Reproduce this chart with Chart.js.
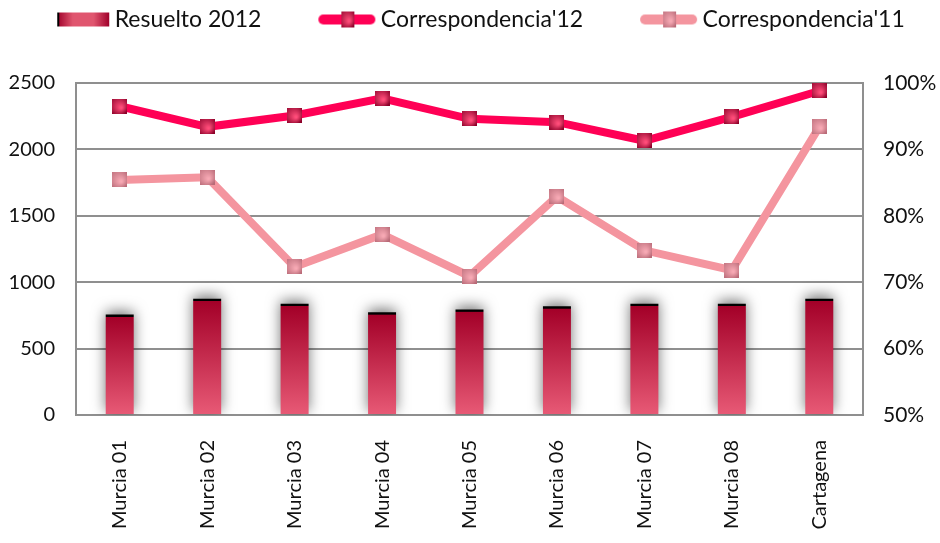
<!DOCTYPE html>
<html>
<head>
<meta charset="utf-8">
<script src="https://cdn.jsdelivr.net/npm/chart.js@4"></script>
<style>
  html, body { margin: 0; padding: 0; background: #fff; }
  #wrap { width: 940px; height: 543px; }
</style>
</head>
<body>
<div id="wrap"><canvas id="myChart" width="940" height="543"></canvas></div>
<script>
// datos
const labels = ['Murcia 01', 'Murcia 02', 'Murcia 03', 'Murcia 04', 'Murcia 05', 'Murcia 06', 'Murcia 07', 'Murcia 08', 'Cartagena'];
const resuelto2012 = [756, 876, 838, 773, 795, 818, 838, 838, 876];
const corresp12 = [0.965, 0.934, 0.951, 0.977, 0.946, 0.941, 0.913, 0.949, 0.988];
const corresp11 = [0.854, 0.858, 0.723, 0.772, 0.709, 0.829, 0.748, 0.718, 0.934];
const leftTicks = [0, 500, 1000, 1500, 2000, 2500];
const rightTicks = [0.5, 0.6, 0.7, 0.8, 0.9, 1.0];

const FONT = 'Lato';
Chart.defaults.font.family = FONT;
Chart.defaults.color = '#222';

const GRID = '#8f8f8f';
const LINE12 = '#ff0055';
const LINE11 = '#f4959f';

// marcadores cuadrados con degradado
function makeMarker(dark, light) {
  const c = document.createElement('canvas');
  c.width = 15; c.height = 15;
  const x = c.getContext('2d');
  const g = x.createRadialGradient(9, 9, 1, 6, 6, 11);
  g.addColorStop(0, light);
  g.addColorStop(1, dark);
  x.fillStyle = g;
  x.fillRect(0, 0, 15, 15);
  return c;
}
const marker12 = makeMarker('#8a0028', '#ff4d7a');
const marker11 = makeMarker('#b86a77', '#f7a9b4');

// iconos de la leyenda
function legendLine(color, mk) {
  const c = document.createElement('canvas');
  c.width = 120; c.height = 22;
  const x = c.getContext('2d');
  x.strokeStyle = color;
  x.lineWidth = 10;
  x.lineCap = 'round';
  x.beginPath();
  x.moveTo(64, 11);
  x.lineTo(111, 11);
  x.stroke();
  x.drawImage(mk, 82, 3, 13, 16);
  return c;
}
function legendBar() {
  const c = document.createElement('canvas');
  c.width = 120; c.height = 22;
  const x = c.getContext('2d');
  const g = x.createLinearGradient(64, 0, 116, 0);
  g.addColorStop(0, '#a0002a');
  g.addColorStop(0.3, '#e0566f');
  g.addColorStop(0.7, '#e0566f');
  g.addColorStop(1, '#a0002a');
  x.fillStyle = g;
  x.fillRect(64, 4, 52, 14);
  x.fillStyle = '#000';
  x.fillRect(64, 4, 2, 14);
  return c;
}
const legendIcons = [legendBar(), legendLine(LINE12, marker12), legendLine(LINE11, marker11)];

// degradado por barra, con el filo negro arriba
function barGradient(context) {
  const chart = context.chart;
  const area = chart.chartArea;
  if (!area || context.type !== 'data') return '#c8304f';
  const top = chart.scales.y.getPixelForValue(context.raw);
  const h = Math.max(area.bottom - top, 4);
  const g = chart.ctx.createLinearGradient(0, top, 0, area.bottom);
  g.addColorStop(0, '#000');
  g.addColorStop(2 / h, '#000');
  g.addColorStop(2.5 / h, '#a30028');
  g.addColorStop(1, '#e85a76');
  return g;
}

const data = {
  labels: labels,
  datasets: [{
    type: 'bar',
    label: 'Resuelto 2012',
    data: resuelto2012,
    yAxisID: 'y',
    backgroundColor: barGradient,
    borderWidth: 0,
    barPercentage: 0.32,
    categoryPercentage: 1,
    order: 3
  }, {
    type: 'line',
    label: "Correspondencia'12",
    data: corresp12,
    yAxisID: 'y1',
    borderColor: LINE12,
    borderWidth: 8,
    pointStyle: marker12,
    pointRadius: 8,
    tension: 0,
    order: 1
  }, {
    type: 'line',
    label: "Correspondencia'11",
    data: corresp11,
    yAxisID: 'y1',
    borderColor: LINE11,
    borderWidth: 8,
    pointStyle: marker11,
    pointRadius: 8,
    tension: 0,
    order: 2
  }]
};

// sombra de las barras
const barShadow = {
  id: 'barShadow',
  beforeDatasetDraw(chart, args) {
    if (args.index !== 0) return;
    const ctx = chart.ctx;
    ctx.save();
    ctx.shadowColor = 'rgba(0,0,0,0.55)';
    ctx.shadowBlur = 14;
    ctx.shadowOffsetY = -3;
  },
  afterDatasetDraw(chart, args) {
    if (args.index !== 0) return;
    chart.ctx.restore();
  }
};

// espacio bajo la leyenda y desplazamiento
const legendGap = {
  id: 'legendGap',
  beforeInit(chart) {
    const fit = chart.legend.fit;
    chart.legend.fit = function () {
      fit.bind(chart.legend)();
      this.height += 42;
    };
  },
  afterLayout(chart) {
    chart.legend.left -= 16;
    chart.legend.right -= 16;
  }
};

const config = {
  data: data,
  options: {
    responsive: false,
    animation: false,
    layout: { padding: 0 },
    plugins: {
      tooltip: { enabled: false },
      legend: {
        position: 'top',
        labels: {
          usePointStyle: true,
          pointStyleWidth: 100,
          boxHeight: 22,
          padding: 8,
          color: '#111',
          font: { size: 23, family: FONT },
          sort: (a, b) => a.datasetIndex - b.datasetIndex,
          generateLabels(chart) {
            const items = Chart.defaults.plugins.legend.labels.generateLabels(chart);
            items.forEach((it) => { it.pointStyle = legendIcons[it.datasetIndex]; });
            return items;
          }
        }
      }
    },
    scales: {
      x: {
        offset: true,
        grid: { display: false },
        border: { display: true, color: GRID, width: 2 },
        afterFit: (axis) => { axis.height = 128; },
        ticks: {
          minRotation: 90,
          maxRotation: 90,
          padding: 17,
          color: '#111',
          font: { size: 20 }
        }
      },
      y: {
        position: 'left',
        min: 0,
        max: 2500,
        afterBuildTicks: (axis) => { axis.ticks = leftTicks.map(v => ({ value: v })); },
        afterFit: (axis) => { axis.width = 76; },
        grid: { color: GRID, lineWidth: 2, drawTicks: false },
        border: { display: true, color: GRID, width: 2 },
        ticks: {
          padding: 21,
          color: '#111',
          font: { size: 20 },
          callback: (v) => String(v)
        }
      },
      y1: {
        position: 'right',
        min: 0.5,
        max: 1.0,
        afterBuildTicks: (axis) => { axis.ticks = rightTicks.map(v => ({ value: v })); },
        afterFit: (axis) => { axis.width = 77; },
        grid: { display: false, drawTicks: false },
        border: { display: true, color: GRID, width: 2 },
        ticks: {
          padding: 20,
          color: '#111',
          font: { size: 21 },
          callback: (v) => Math.round(v * 100) + '%'
        }
      }
    }
  },
  plugins: [barShadow, legendGap]
};

var ctx = document.getElementById('myChart').getContext('2d');
var myChart = new Chart(ctx, config);
</script>
</body>
</html>
